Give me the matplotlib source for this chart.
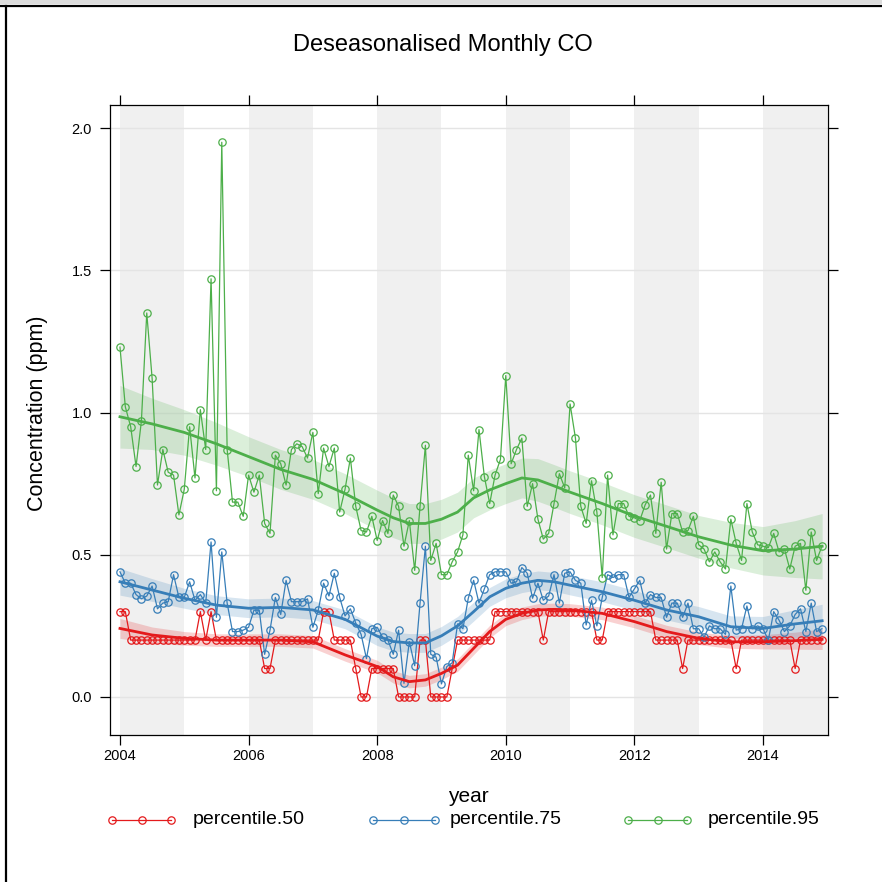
import numpy as np
import matplotlib
matplotlib.use("Agg")
import matplotlib.pyplot as plt
from matplotlib.lines import Line2D
from matplotlib.patches import Rectangle

plt.rcParams['font.family'] = ['Liberation Sans', 'DejaVu Sans']

##########################################
# data
##########################################
start_year = 2004
years = list(range(2004, 2015))

# monthly deseasonalised values, Jan 2004 .. Dec 2014
p50 = [
    0.3, 0.3, 0.2, 0.2, 0.2, 0.2, 0.2, 0.2, 0.2, 0.2, 0.2, 0.2,
    0.2, 0.2, 0.2, 0.3, 0.2, 0.3, 0.2, 0.2, 0.2, 0.2, 0.2, 0.2,
    0.2, 0.2, 0.2, 0.1, 0.1, 0.2, 0.2, 0.2, 0.2, 0.2, 0.2, 0.2,
    0.2, 0.2, 0.3, 0.3, 0.2, 0.2, 0.2, 0.2, 0.1, 0.0, 0.0, 0.1,
    0.1, 0.1, 0.1, 0.1, 0.0, 0.0, 0.0, 0.0, 0.2, 0.2, 0.0, 0.0,
    0.0, 0.0, 0.1, 0.2, 0.2, 0.2, 0.2, 0.2, 0.2, 0.2, 0.3, 0.3,
    0.3, 0.3, 0.3, 0.3, 0.3, 0.3, 0.3, 0.2, 0.3, 0.3, 0.3, 0.3,
    0.3, 0.3, 0.3, 0.3, 0.3, 0.2, 0.2, 0.3, 0.3, 0.3, 0.3, 0.3,
    0.3, 0.3, 0.3, 0.3, 0.2, 0.2, 0.2, 0.2, 0.2, 0.1, 0.2, 0.2,
    0.2, 0.2, 0.2, 0.2, 0.2, 0.2, 0.2, 0.1, 0.2, 0.2, 0.2, 0.2,
    0.2, 0.2, 0.2, 0.2, 0.2, 0.2, 0.1, 0.2, 0.2, 0.2, 0.2, 0.2,
]
p75 = [
    0.44, 0.40, 0.40, 0.36, 0.345, 0.355, 0.39, 0.31, 0.33, 0.335, 0.43, 0.35,
    0.35, 0.405, 0.34, 0.36, 0.33, 0.545, 0.28, 0.51, 0.33, 0.23, 0.23, 0.235,
    0.245, 0.305, 0.305, 0.15, 0.235, 0.35, 0.29, 0.41, 0.335, 0.335, 0.335, 0.345,
    0.245, 0.305, 0.40, 0.355, 0.435, 0.35, 0.285, 0.31, 0.26, 0.22, 0.135, 0.24,
    0.245, 0.21, 0.20, 0.15, 0.235, 0.048, 0.195, 0.11, 0.33, 0.53, 0.15, 0.14,
    0.046, 0.107, 0.12, 0.257, 0.24, 0.347, 0.41, 0.33, 0.38, 0.43, 0.44, 0.44,
    0.44, 0.40, 0.405, 0.455, 0.435, 0.347, 0.40, 0.34, 0.355, 0.43, 0.33, 0.435,
    0.44, 0.41, 0.40, 0.253, 0.34, 0.25, 0.35, 0.43, 0.42, 0.43, 0.43, 0.35,
    0.38, 0.41, 0.33, 0.36, 0.35, 0.35, 0.28, 0.33, 0.33, 0.28, 0.33, 0.24,
    0.24, 0.21, 0.25, 0.24, 0.24, 0.22, 0.39, 0.235, 0.24, 0.32, 0.24, 0.25,
    0.24, 0.20, 0.30, 0.27, 0.23, 0.25, 0.29, 0.31, 0.23, 0.33, 0.23, 0.24,
]
p95 = [
    1.23, 1.02, 0.95, 0.81, 0.97, 1.35, 1.12, 0.745, 0.87, 0.79, 0.78, 0.64,
    0.73, 0.95, 0.77, 1.01, 0.87, 1.47, 0.725, 1.95, 0.87, 0.685, 0.685, 0.635,
    0.78, 0.72, 0.78, 0.61, 0.575, 0.85, 0.82, 0.745, 0.87, 0.89, 0.88, 0.84,
    0.93, 0.715, 0.875, 0.81, 0.875, 0.65, 0.73, 0.84, 0.67, 0.585, 0.58, 0.635,
    0.55, 0.62, 0.575, 0.71, 0.67, 0.53, 0.62, 0.445, 0.67, 0.885, 0.48, 0.54,
    0.43, 0.43, 0.475, 0.51, 0.57, 0.85, 0.725, 0.94, 0.775, 0.68, 0.78, 0.835,
    1.13, 0.82, 0.87, 0.91, 0.67, 0.75, 0.625, 0.555, 0.575, 0.68, 0.785, 0.735,
    1.03, 0.91, 0.67, 0.61, 0.76, 0.65, 0.42, 0.78, 0.57, 0.68, 0.68, 0.635,
    0.63, 0.62, 0.675, 0.71, 0.575, 0.755, 0.52, 0.645, 0.645, 0.58, 0.585, 0.635,
    0.535, 0.52, 0.475, 0.51, 0.475, 0.45, 0.625, 0.54, 0.48, 0.68, 0.58, 0.535,
    0.53, 0.525, 0.575, 0.51, 0.52, 0.45, 0.53, 0.54, 0.375, 0.58, 0.48, 0.53,
]

# smooth trend + 95% band, read at these decimal years
trend_x = [2004, 2004.5, 2005, 2005.5, 2006, 2006.5, 2007, 2007.5, 2008, 2008.25,
           2008.5, 2008.75, 2009, 2009.25, 2009.5, 2009.75, 2010, 2010.25, 2010.5,
           2010.75, 2011, 2011.5, 2012, 2012.5, 2013, 2013.5, 2014, 2014.5, 2014.92]
trend50 = [0.241, 0.218, 0.206, 0.200, 0.200, 0.200, 0.194, 0.148, 0.107, 0.071,
           0.054, 0.060, 0.083, 0.112, 0.171, 0.230, 0.273, 0.294, 0.306,
           0.308, 0.306, 0.294, 0.265, 0.230, 0.206, 0.194, 0.194, 0.198, 0.203]
band50 = [0.035, 0.028, 0.024, 0.022, 0.022, 0.022, 0.022, 0.022, 0.022, 0.022,
          0.022, 0.022, 0.022, 0.022, 0.022, 0.022, 0.022, 0.022, 0.022,
          0.022, 0.022, 0.022, 0.022, 0.022, 0.022, 0.023, 0.025, 0.030, 0.036]
trend75 = [0.405, 0.376, 0.347, 0.323, 0.312, 0.315, 0.306, 0.273, 0.214, 0.195,
           0.190, 0.190, 0.215, 0.250, 0.300, 0.352, 0.382, 0.400, 0.410,
           0.405, 0.393, 0.370, 0.340, 0.306, 0.282, 0.247, 0.241, 0.257, 0.268]
band75 = [0.047, 0.040, 0.035, 0.033, 0.033, 0.033, 0.033, 0.033, 0.033, 0.033,
          0.033, 0.033, 0.033, 0.033, 0.033, 0.033, 0.033, 0.033, 0.033,
          0.033, 0.034, 0.035, 0.035, 0.035, 0.036, 0.038, 0.042, 0.050, 0.058]
trend95 = [0.985, 0.960, 0.930, 0.890, 0.845, 0.800, 0.765, 0.715, 0.657, 0.630,
           0.610, 0.610, 0.625, 0.650, 0.700, 0.728, 0.750, 0.770, 0.763,
           0.742, 0.720, 0.680, 0.636, 0.600, 0.563, 0.534, 0.514, 0.520, 0.530]
band95 = [0.110, 0.090, 0.080, 0.075, 0.070, 0.070, 0.070, 0.070, 0.070, 0.070,
          0.070, 0.070, 0.070, 0.070, 0.070, 0.070, 0.070, 0.070, 0.075,
          0.075, 0.075, 0.075, 0.075, 0.075, 0.075, 0.080, 0.085, 0.100, 0.115]

labels = ['percentile.50', 'percentile.75', 'percentile.95']
colors = ['#E41A1C', '#377EB8', '#4DAF4A']

##########################################
# figure
##########################################
W = 882
fig = plt.figure(figsize=(8.82, 8.82), dpi=100)
fig.patch.set_facecolor('white')

# window frame of the screenshot
fig.add_artist(Rectangle((0, 1 - 4 / W), 1, 4 / W, transform=fig.transFigure,
                         facecolor='#dcdcdc', edgecolor='none'))
fig.add_artist(Line2D([0, 1], [1 - 5.5 / W, 1 - 5.5 / W], transform=fig.transFigure,
                      color='black', lw=1.6))
fig.add_artist(Line2D([6 / W, 6 / W], [0, 1 - 5.5 / W], transform=fig.transFigure,
                      color='black', lw=1.6))

ax = fig.add_axes([110 / W, 1 - 735 / W, (828 - 110) / W, (735 - 105) / W])

months = np.arange(len(p50))
x = start_year + months / 12.0

# alternating year shading
for yr in years[::2]:
    ax.axvspan(yr, yr + 1, color='#f0f0f0', lw=0, zorder=0)
for yv in [0, 0.5, 1.0, 1.5, 2.0]:
    ax.axhline(yv, color='#e4e4e4', lw=1, zorder=0.5)

for vals, tr, bd, c in zip([p50, p75, p95], [trend50, trend75, trend95],
                           [band50, band75, band95], colors):
    tr = np.array(tr)
    bd = np.array(bd)
    ax.fill_between(trend_x, tr - bd, tr + bd, color=c, alpha=0.2, lw=0, zorder=1)
    ax.plot(x, vals, color=c, lw=0.9, marker='o', ms=5.3, mfc='none', mew=0.9, zorder=2)
    ax.plot(trend_x, tr, color=c, lw=2.0, zorder=3)

ax.set_xlim(2003.845, 2015.011)
ax.set_ylim(-0.1336, 2.081)
ax.set_xticks([2004, 2006, 2008, 2010, 2012, 2014])
ax.set_yticks([0.0, 0.5, 1.0, 1.5, 2.0])
ax.set_yticklabels(['0.0', '0.5', '1.0', '1.5', '2.0'])
ax.tick_params(direction='out', length=7, width=0.9, labelsize=10.5,
               top=True, right=True, labeltop=False, labelright=False)
ax.tick_params(axis='x', pad=3)
ax.tick_params(axis='y', pad=6)
for sp in ax.spines.values():
    sp.set_linewidth(0.9)

##########################################
# text and legend
##########################################
fig.text(443 / W, 1 - 45 / W, 'Deseasonalised Monthly CO', ha='center', va='center',
         fontsize=17)
fig.text(38 / W, 1 - 413 / W, 'Concentration (ppm)', rotation=90, ha='center',
         va='center', fontsize=15.5)
fig.text(468 / W, 1 - 797 / W, 'year', ha='center', va='center', fontsize=15)

leg_y = 1 - 820 / W
key_x = [(112, 141.5, 171), (373, 404, 435), (628, 657.5, 687)]
text_x = [193, 450, 708]
for lab, c, kx, tx in zip(labels, colors, key_x, text_x):
    fig.add_artist(Line2D([k / W for k in kx], [leg_y] * 3, transform=fig.transFigure,
                          color=c, lw=0.9, marker='o', ms=5.3, mfc='none', mew=0.9))
    fig.text(tx / W, leg_y, lab, ha='left', va='center', fontsize=14)

fig.savefig('out.png', dpi=100)
